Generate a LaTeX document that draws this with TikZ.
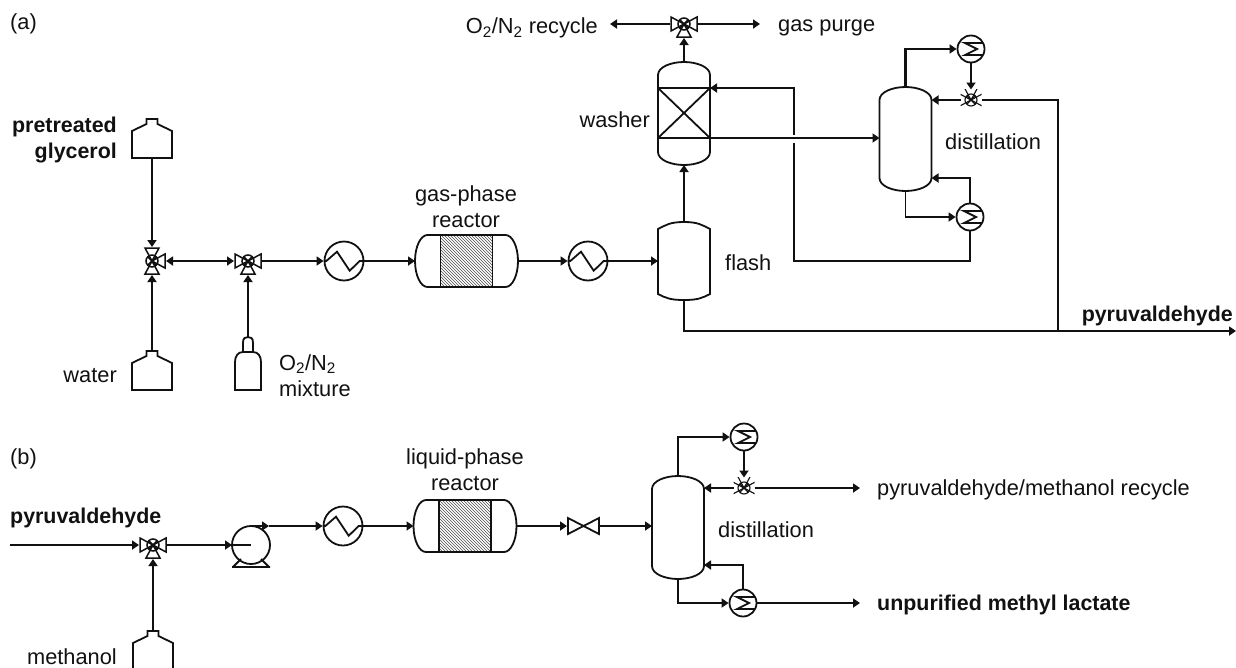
\documentclass[tikz,border=0pt]{standalone}
\usepackage{fontspec}
\setmainfont{Liberation Sans}
\usetikzlibrary{arrows.meta,patterns}
\definecolor{pfdInk}{HTML}{111111}
\tikzset{
  unit/.style={draw=pfdInk, line width=1.8pt},
  link/.style={draw=pfdInk, line width=1.8pt, -{Triangle[length=7pt,width=9pt]}},
  mainlink/.style={link, line width=2.8pt},
  twoway/.style={{Triangle[length=7pt,width=9pt]}-{Triangle[length=7pt,width=9pt]}},
  nohead/.style={-},
  lbl/.style={font=\fontsize{21.8}{26}\selectfont, text=pfdInk, inner sep=0pt, align=center},
  lblb/.style={lbl, font=\fontsize{21.4}{26}\selectfont\bfseries},
  hxh/.style={unit, circle, inner sep=0pt, minimum size=39pt, path picture={
    \draw[unit, shift={(path picture bounding box.center)}]
      (-20,0) -- (-17.7,0) -- (-7,-9.3) -- (5.7,9.7) -- (15.7,0) -- (20,0);}},
  hxv/.style={unit, circle, inner sep=0pt, minimum size=27pt, path picture={
    \draw[unit, shift={(path picture bounding box.center)}]
      (14,-6) -- (-6,-6) -- (6,0) -- (-6,6) -- (14,6);}},
  valve/.style 2 args={inner sep=0pt, outer sep=0pt, minimum size={28pt*#2}, path picture={
    \begin{scope}[shift={(path picture bounding box.center)}, scale=#2]
      \foreach \dx/\dy in {#1} {\draw[unit, line width=1.5pt*#2] (0,0)
        -- ({13*\dx-7*\dy},{13*\dy-7*\dx}) -- ({13*\dx+7*\dy},{13*\dy+7*\dx}) -- cycle;}
      \draw[unit, line width=1.5pt*#2] (0,0) circle (6pt) (-4,-4) -- (4,4) (-4,4) -- (4,-4);
    \end{scope}}},
  gate/.style={inner sep=0pt, outer sep=0pt, minimum width=33pt, minimum height=20pt, path picture={
    \draw[unit, shift={(path picture bounding box.center)}]
      (-15.5,-8) -- (15.5,8) -- (15.5,-8) -- (-15.5,8) -- cycle;}},
  shell/.style={inner sep=0pt, outer sep=0pt, minimum width=52pt},
  rshell/.style={inner sep=0pt, outer sep=0pt, minimum width=103pt, minimum height=52pt},
  bed/.style={unit, inner sep=0pt, outer sep=0pt, minimum width=52pt, minimum height=52pt,
    pattern=north west lines, pattern color=pfdInk!75},
}
\begin{document}
\begin{tikzpicture}[x=1pt, y=-1pt]
\useasboundingbox (0,0) rectangle (1236,667);

% columns
\foreach \name/\cx/\cy/\hh in {washer/684/113.5/51.5, colA/905.5/139/52, colB/678/527.5/51.5} {
  \node[shell, minimum height={2pt*\hh}] (\name) at (\cx,\cy) {};
  \draw[unit] (\name.west |- 0,\cy-\hh+13) .. controls +(0,-8) and +(-13,0) .. (\name.north)
    .. controls +(13,0) and +(0,-8) .. (\name.east |- 0,\cy-\hh+13)
    -- (\name.east |- 0,\cy+\hh-13) .. controls +(0,8) and +(13,0) .. (\name.south)
    .. controls +(-13,0) and +(0,8) .. (\name.west |- 0,\cy+\hh-13) -- cycle;
}
\node[shell, minimum height=78pt] (flash) at (684,261) {};
\draw[unit] (flash.west |- 0,229) .. controls +(8,-4) and +(-14,0) .. (flash.north)
  .. controls +(14,0) and +(-8,-4) .. (flash.east |- 0,229)
  -- (flash.east |- 0,294) .. controls +(-8,4) and +(14,0) .. (flash.south)
  .. controls +(-14,0) and +(8,4) .. (flash.west |- 0,294) -- cycle;
\draw[unit] (658,88) -- (710,88) (658,138) -- (710,138) (658,88) -- (710,138) (710,88) -- (658,138);

% reactors
\foreach \name/\cx/\cy in {reactorA/466.5/261, reactorB/465/526} {
  \node[rshell] (\name) at (\cx,\cy) {};
  \node[bed] (\name-bed) at (\name.center) {};
  \draw[unit, shift={(\name.center)}] (-26,-26) -- (-39,-26)
    .. controls (-46,-26) and (-51.5,-14) .. (-51.5,0)
    .. controls (-51.5,14) and (-46,26) .. (-39,26) -- (-26,26)
    (26,-26) -- (39,-26) .. controls (46,-26) and (51.5,-14) .. (51.5,0)
    .. controls (51.5,14) and (46,26) .. (39,26) -- (26,26);
}

% bottles
\foreach \name/\cx/\cy in {bottleG/152/119, bottleW/152/351, bottleM/153/631} {
  \coordinate (\name) at (\cx,\cy);
  \coordinate (\name-base) at (\cx,\cy+39);
  \draw[unit] (\name) ++(-5.5,0) -- ++(11,0) -- ++(0,5) -- ++(14.5,7) -- ++(0,27)
    -- ++(-40,0) -- ++(0,-27) -- ++(14.5,-7) -- cycle;
}
\coordinate (cylinder) at (248,337);
\draw[unit, shift={(cylinder)}] (-5,15) -- (-5,6) .. controls (-5,1) and (-3,0) .. (0,0)
  .. controls (3,0) and (5,1) .. (5,6) -- (5,15)
  (-13,53) -- (-13,25) .. controls (-13,19) and (-10,15) .. (-5,15) -- (5,15)
  .. controls (10,15) and (13,19) .. (13,25) -- (13,53) -- cycle;

% exchangers and valves
\node[hxh] (hxA1) at (344,261) {};
\node[hxh] (hxA2) at (588,261) {};
\node[hxh] (hxB) at (343,526) {};
\node[hxv] (condA) at (971,49) {};
\node[hxv] (rebA) at (970,217) {};
\node[hxv] (condB) at (744,437) {};
\node[hxv] (rebB) at (743,603) {};
\node[valve={0/-1,0/1,1/0}{1}] (valveA1) at (152,261) {};
\node[valve={1/0,-1/0,0/1}{1}] (valveA2) at (248,261) {};
\node[valve={1/0,-1/0,0/1}{1}] (valveTop) at (684,24) {};
\node[valve={1/0,-1/0,0/-1}{0.75}] (valveA3) at (971,100) {};
\node[valve={1/0,-1/0,0/1}{1}] (valveB1) at (153,545) {};
\node[valve={1/0,-1/0,0/-1}{0.75}] (valveB2) at (744,488) {};
\node[gate] (gateB) at (583.5,526) {};
\node[unit, circle, inner sep=0pt, outer sep=0pt, minimum size=38pt] (pump) at (251,545) {};
\draw[unit, shift={(pump.center)}] (-19,22) -- (19,22) (-18,22) -- (-10,14) (18,22) -- (10,14);

% part (a)
\draw[mainlink] (bottleG-base) -- (valveA1.north);
\draw[link] (bottleW) -- (valveA1.south);
\draw[mainlink, twoway] (valveA1.east) -- (valveA2.west);
\draw[link] (cylinder) -- (valveA2.south);
\draw[mainlink] (valveA2.east) -- (hxA1.west);
\draw[mainlink] (hxA1.east) -- (reactorA.west);
\draw[mainlink] (reactorA.east) -- (hxA2.west);
\draw[mainlink] (hxA2.east) -- (flash.west);
\draw[link] (flash.north) -- (washer.south);
\draw[link] (washer.north) -- (valveTop.south);
\draw[link] (valveTop.west) -- (610,24) coordinate (recycleEnd);
\draw[link] (valveTop.east) -- (760,24) coordinate (purgeEnd);
\draw[mainlink, nohead] (flash.south) |- (1058,331) coordinate (splitA);
\draw[link] (splitA) -- (1236,331) coordinate (productA);
\draw[mainlink, nohead] (splitA) |- (valveA3.east);
\draw[link] (valveA3.west) -- (colA.east |- valveA3);
\draw[mainlink] (colA.north) |- (condA.west);
\draw[mainlink] (condA.south) -- (valveA3.north);
\draw[link] (colA.south) |- (rebA.west);
\draw[link] (rebA.north) |- (colA.east |- 0,178);
\draw[link] (rebA.south) |- (794,261) |- (washer.east |- 0,88);
\draw[draw=white, line width=4pt] (794,135) -- (794,143);
\draw[link] (710,138) -- (colA.west |- 0,138);

% part (b)
\draw[mainlink] (10,545) coordinate (feedB) -- (valveB1.west);
\draw[link] (bottleM) -- (valveB1.south);
\draw[mainlink] (valveB1.east) -- (pump.west);
\draw[mainlink, nohead] (pump.west) -- (pump.center);
\draw[mainlink] (pump.north) -- ++(18,0) coordinate (pumpOut);
\draw[mainlink] (pumpOut) -- (hxB.west);
\draw[mainlink] (hxB.east) -- (reactorB.west);
\draw[mainlink] (reactorB.east) -- (gateB.west);
\draw[mainlink] (gateB.east) -- (colB.west |- gateB);
\draw[link] (colB.north) |- (condB.west);
\draw[mainlink] (condB.south) -- (valveB2.north);
\draw[link] (valveB2.west) -- (colB.east |- valveB2);
\draw[link] (valveB2.east) -- (860,488) coordinate (recycleB);
\draw[mainlink] (colB.south) |- (rebB.west);
\draw[link] (rebB.north) |- (colB.east |- 0,565);
\draw[mainlink] (rebB.east) -- (860,603) coordinate (productB);

% labels
\node[lbl, anchor=west] (tagA) at (10,24) {(a)};
\node[lbl, anchor=west] (tagB) at (10,459) {(b)};
\node[lblb, align=right, anchor=east] (glycerol) at (117,140) {pretreated\\glycerol};
\node[lbl, anchor=east] (water) at (117,376) {water};
\node[lbl, align=left, anchor=north west] (mixture) at (279,354) {O\textsubscript{2}/N\textsubscript{2}\\mixture};
\node[lbl] (gasreactor) at (466,207) {gas-phase\\reactor};
\node[lbl, anchor=east] (washerlbl) at (650,120) {washer};
\node[lbl, anchor=west] (flashlbl) at (725,263) {flash};
\node[lbl, anchor=west] (distA) at (945,142) {distillation};
\node[lbl, anchor=east] (recycle) at (598,28) {O\textsubscript{2}/N\textsubscript{2} recycle};
\node[lbl, anchor=west] (purge) at (778,28) {gas purge};
\node[lblb, anchor=east] (pyruvA) at (1233,316) {pyruvaldehyde};
\node[lbl] (liqreactor) at (465,470) {liquid-phase\\reactor};
\node[lblb, anchor=west] (pyruvB) at (10,518) {pyruvaldehyde};
\node[lbl, anchor=east] (methanol) at (117,657) {methanol};
\node[lbl, anchor=west] (distB) at (718,530) {distillation};
\node[lbl, anchor=west] (recycleBlbl) at (877,490) {pyruvaldehyde/methanol recycle};
\node[lblb, anchor=west] (lactate) at (877,605) {unpurified methyl lactate};

\end{tikzpicture}
\end{document}
